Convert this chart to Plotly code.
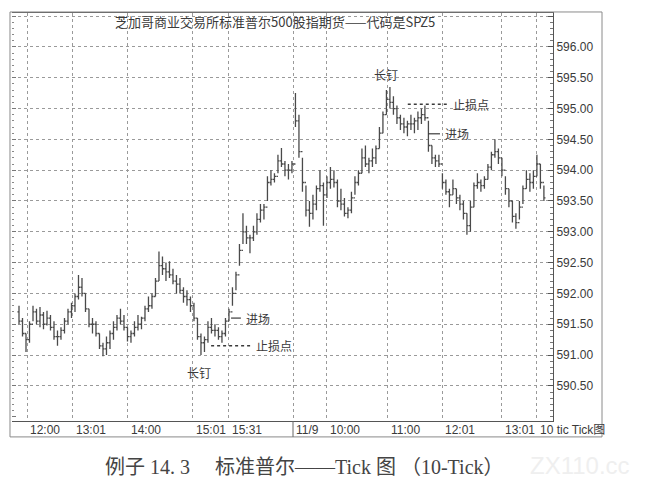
import plotly.graph_objects as go

# 10-tick bars (one value per bar)
highs = [
    591.80, 591.60, 591.35, 591.55, 591.80, 591.75, 591.78, 591.70, 591.72, 591.65,
    591.55, 591.40, 591.45, 591.60, 591.75, 591.85, 592.00, 592.30, 592.25, 592.00,
    591.75, 591.60, 591.55, 591.35, 591.20, 591.30, 591.40, 591.55, 591.65, 591.75,
    591.65, 591.45, 591.40, 591.55, 591.65, 591.62, 591.80, 591.95, 592.00, 592.25,
    592.68, 592.60, 592.50, 592.52, 592.40, 592.30, 592.25, 592.10, 592.05, 591.95,
    591.85, 591.60, 591.35, 591.30, 591.55, 591.60, 591.50, 591.45, 591.40, 591.60,
    591.75, 592.10, 592.35, 592.80, 593.30, 593.10, 592.95, 593.10, 593.30, 593.45,
    593.45, 593.90, 594.00, 593.95, 594.25, 594.36, 594.15, 594.10, 594.15, 595.25,
    594.90, 594.20, 593.75, 593.50, 593.60, 593.75, 594.00, 593.80, 593.90, 594.05,
    594.00, 593.85, 593.70, 593.55, 593.40, 593.65, 593.90, 594.00, 594.35, 594.40,
    594.20, 594.35, 594.40, 594.70, 594.95, 595.30, 595.35, 595.20, 595.05, 594.90,
    594.85, 594.80, 594.90, 594.85, 594.95, 595.00, 595.05, 594.80, 594.40, 594.25,
    594.25, 593.95, 593.85, 593.70, 593.85, 593.70, 593.60, 593.50, 593.30, 593.50,
    593.80, 593.95, 593.85, 593.90, 594.10, 594.30, 594.50, 594.35, 594.20, 593.90,
    593.70, 593.50, 593.30, 593.50, 593.75, 594.00, 593.95, 594.00, 594.25, 594.10,
    593.75,
]
lows = [
    591.50, 591.30, 591.05, 591.20, 591.55, 591.50, 591.45, 591.42, 591.48, 591.40,
    591.25, 591.15, 591.25, 591.35, 591.50, 591.60, 591.70, 591.90, 591.95, 591.70,
    591.45, 591.35, 591.30, 591.10, 590.98, 591.00, 591.10, 591.25, 591.40, 591.50,
    591.40, 591.22, 591.20, 591.30, 591.40, 591.42, 591.55, 591.70, 591.75, 591.95,
    592.20, 592.30, 592.20, 592.25, 592.15, 592.00, 592.00, 591.85, 591.80, 591.70,
    591.55, 591.25, 591.00, 591.05, 591.20, 591.35, 591.30, 591.25, 591.20, 591.30,
    591.55, 591.80, 592.05, 592.45, 592.80, 592.80, 592.65, 592.85, 592.95, 593.15,
    593.20, 593.50, 593.75, 593.80, 593.95, 594.05, 593.90, 593.85, 593.95, 594.70,
    594.20, 593.65, 593.25, 593.08, 593.20, 593.35, 593.65, 593.10, 593.55, 593.70,
    593.72, 593.40, 593.35, 593.25, 593.22, 593.30, 593.60, 593.75, 593.95, 594.05,
    593.95, 594.05, 594.10, 594.35, 594.60, 594.90, 595.00, 594.90, 594.75, 594.65,
    594.60, 594.55, 594.65, 594.60, 594.65, 594.75, 594.80, 594.30, 594.10, 594.05,
    594.05, 593.70, 593.60, 593.40, 593.60, 593.45, 593.35, 593.20, 592.95, 593.00,
    593.40, 593.70, 593.65, 593.70, 593.85, 594.00, 594.20, 594.10, 593.90, 593.60,
    593.40, 593.15, 593.05, 593.20, 593.45, 593.70, 593.65, 593.70, 593.90, 593.70,
    593.50,
]
closes = [
    591.55, 591.35, 591.25, 591.50, 591.70, 591.55, 591.65, 591.50, 591.60, 591.45,
    591.30, 591.30, 591.40, 591.55, 591.70, 591.80, 591.95, 592.10, 592.00, 591.75,
    591.50, 591.50, 591.35, 591.15, 591.10, 591.20, 591.35, 591.45, 591.60, 591.55,
    591.45, 591.30, 591.35, 591.45, 591.50, 591.60, 591.75, 591.80, 591.95, 592.20,
    592.45, 592.40, 592.35, 592.30, 592.20, 592.15, 592.05, 591.95, 591.90, 591.80,
    591.60, 591.30, 591.20, 591.25, 591.45, 591.40, 591.40, 591.30, 591.35, 591.55,
    591.70, 592.00, 592.30, 592.70, 593.00, 592.90, 592.90, 593.00, 593.20, 593.35,
    593.40, 593.80, 593.85, 593.90, 594.15, 594.10, 594.00, 594.00, 594.10, 594.80,
    594.30, 593.80, 593.35, 593.30, 593.45, 593.70, 593.75, 593.60, 593.80, 593.85,
    593.80, 593.50, 593.45, 593.30, 593.35, 593.55, 593.80, 593.95, 594.20, 594.10,
    594.15, 594.20, 594.35, 594.60, 594.90, 595.15, 595.10, 595.00, 594.85, 594.75,
    594.70, 594.75, 594.75, 594.80, 594.85, 594.90, 594.85, 594.40, 594.20, 594.15,
    594.10, 593.80, 593.65, 593.60, 593.70, 593.55, 593.45, 593.30, 593.10, 593.40,
    593.75, 593.80, 593.75, 593.85, 594.05, 594.25, 594.30, 594.20, 594.00, 593.70,
    593.50, 593.25, 593.15, 593.40, 593.70, 593.85, 593.80, 593.90, 594.10, 593.80,
    593.55,
]
first_open = 591.70
opens = [first_open] + closes[:-1]
bars = list(range(len(closes)))

# time labels sit on the bar where each vertical grid line falls
time_pos = [2.3, 15.4, 31.1, 49.7, 60.0, 78.3, 88.0, 105.4, 120.9, 138.0]
time_labels = ["12:00", "13:01", "14:00", "15:01", "15:31", "11/9", "10:00", "11:00", "12:01", "13:01"]
grid_pos = time_pos + [148.0]

price_ticks = [590.5, 591.0, 591.5, 592.0, 592.5, 593.0, 593.5, 594.0, 594.5, 595.0, 595.5, 596.0, 596.5]
price_text = ["%.2f" % p for p in price_ticks[:-1]] + [""]

# chart markers: (bar, price)
spike_hi = (104.9, 595.55)
spike_lo = (51.4, 590.72)
stop_hi = (111.1, 123.1, 595.07)
entry_hi = (116.9, 120.3, 594.59)
stop_lo = (54.9, 66.9, 591.15)
entry_lo = (60.6, 63.4, 591.60)

ink = "#3a3a3a"
sans = "Liberation Sans, Arial, Noto Sans CJK SC"
cjk = "Noto Sans CJK SC, Liberation Sans"
nb = "\u00a0"

fig = go.Figure()
fig.add_trace(go.Ohlc(
    x=bars, open=opens, high=highs, low=lows, close=closes,
    increasing=dict(line=dict(color="#4a4a4a", width=1.3)),
    decreasing=dict(line=dict(color="#4a4a4a", width=1.3)),
    tickwidth=0.45, showlegend=False, hoverinfo="skip",
))
# helper trace so the left tick ruler is drawn
fig.add_trace(go.Scatter(x=[bars[0]], y=[closes[0]], yaxis="y2", mode="markers",
                         marker=dict(opacity=0), showlegend=False, hoverinfo="skip"))

shapes = []
for x0, x1, y in (stop_hi, stop_lo):
    shapes.append(dict(type="line", xref="x", yref="y", x0=x0, x1=x1, y0=y, y1=y,
                       line=dict(color=ink, width=1.5, dash="dot")))
for x0, x1, y in (entry_hi, entry_lo):
    shapes.append(dict(type="line", xref="x", yref="y", x0=x0, x1=x1, y0=y, y1=y,
                       line=dict(color=ink, width=1.2)))
# frame around chart + label strip
shapes.append(dict(type="rect", xref="paper", yref="paper", x0=-0.0037, x1=1.0906, y0=-0.039, y1=1.0025,
                   line=dict(color="#8a8a8a", width=1)))
shapes.append(dict(type="line", xref="x", yref="paper", x0=time_pos[5], x1=time_pos[5], y0=-0.039, y1=0,
                   line=dict(color="#666", width=1)))

ann = []
ann.append(dict(text="芝加哥商业交易所标准普尔500股指期货——代码是SPZ5", xref="paper", yref="paper",
                x=0.486, y=0.980, xanchor="center", yanchor="middle", showarrow=False,
                font=dict(family=cjk, size=13, color=ink)))
ann.append(dict(text="长钉", x=spike_hi[0], y=spike_hi[1], showarrow=False, font=dict(family=cjk, size=12, color=ink)))
ann.append(dict(text="长钉", x=spike_lo[0], y=spike_lo[1], showarrow=False, font=dict(family=cjk, size=12, color=ink)))
for x0, x1, y in (stop_hi, stop_lo):
    ann.append(dict(text="止损点", x=x1 + 0.3, y=y, xanchor="left", showarrow=False,
                    font=dict(family=cjk, size=12, color=ink)))
for x0, x1, y in (entry_hi, entry_lo):
    ann.append(dict(text="进场", x=x1 + 0.9, y=y, xanchor="left", showarrow=False,
                    font=dict(family=cjk, size=12, color=ink)))
for p, t in zip(time_pos, time_labels):
    ann.append(dict(text=t, x=p + 0.4, xref="x", y=-0.021, yref="paper", xanchor="left", yanchor="middle",
                    showarrow=False, font=dict(family=sans, size=12, color=ink)))
ann.append(dict(text="10 tic Tick图", x=0.972, xref="paper", y=-0.021, yref="paper", xanchor="left",
                yanchor="middle", showarrow=False, font=dict(family=sans, size=12, color=ink)))
caption = "例子" + nb + "14." + nb + "3" + nb * 5 + "标准普尔——Tick" + nb + "图" + nb + "（10-Tick）"
ann.append(dict(text=caption, xref="paper", yref="paper", x=0.54, y=-0.113,
                xanchor="center", yanchor="middle", showarrow=False,
                font=dict(family="Liberation Serif, Noto Sans CJK SC", size=20, color="#444")))
ann.append(dict(text="ZX110.cc", xref="paper", yref="paper", x=1.05, y=-0.11, xanchor="center",
                yanchor="middle", showarrow=False, font=dict(family=sans, size=24, color="#efefef")))

# the page body adds an 8px offset, so the figure is 8px smaller on each side
fig.update_layout(
    width=638, height=475, autosize=False,
    margin=dict(l=4, r=93, t=5, b=62),
    paper_bgcolor="white", plot_bgcolor="white",
    shapes=shapes, annotations=ann,
    xaxis=dict(range=[-2, 152.6], tickvals=grid_pos, showticklabels=False, ticks="",
               showgrid=True, gridcolor="#9a9a9a", griddash="dot", gridwidth=1,
               showline=True, linecolor="#555", linewidth=1, mirror=True,
               zeroline=False, rangeslider=dict(visible=False)),
    yaxis=dict(range=[589.93, 596.55], side="right", tickvals=price_ticks, ticktext=price_text,
               showgrid=True, gridcolor="#9a9a9a", griddash="dot", gridwidth=1,
               ticks="inside", ticklen=5, tickcolor="#555",
               minor=dict(ticks="inside", ticklen=3, dtick=0.1, tickcolor="#777", showgrid=False),
               showline=True, linecolor="#555", linewidth=1, zeroline=False,
               tickfont=dict(family=sans, size=12, color=ink)),
    yaxis2=dict(range=[589.93, 596.55], overlaying="y", side="left", showgrid=False,
                showticklabels=False, ticks="inside", ticklen=4, dtick=0.5, tickcolor="#777",
                minor=dict(ticks="inside", ticklen=2, dtick=0.1, tickcolor="#888"),
                showline=False, zeroline=False),
)

fig.write_html("out.html")
